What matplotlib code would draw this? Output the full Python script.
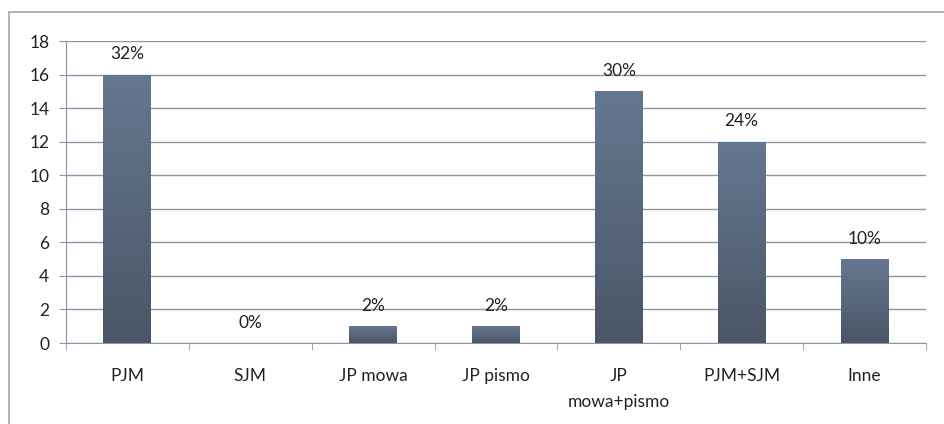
import numpy as np
import matplotlib.pyplot as plt
import matplotlib.patches as patches
from matplotlib.colors import LinearSegmentedColormap

# Categories and counts:
categories = ['PJM', 'SJM', 'JP mowa', 'JP pismo', 'JP\nmowa+pismo', 'PJM+SJM', 'Inne']
counts = [16, 0, 1, 1, 15, 12, 5]
percent_labels = ['32%', '0%', '2%', '2%', '30%', '24%', '10%']
y_ticks = [0, 2, 4, 6, 8, 10, 12, 14, 16, 18]

plt.rcParams['font.family'] = ['Lato', 'DejaVu Sans']

fig = plt.figure(figsize=(9.44, 4.24), dpi=100)
ax = fig.add_axes([66 / 944, 81 / 424, 860 / 944, 302 / 424])

# Outer chart border (only left and top edges are visible in the reference):
fig.patches.append(patches.Rectangle((9 / 944, -0.1), 1.2, (412 / 424) + 0.1,
                                     transform=fig.transFigure, fill=False,
                                     edgecolor='#a6a6a6', linewidth=1.2))

x = np.arange(len(categories))
bar_width = 0.39
bars = ax.bar(x, counts, width=bar_width, color='none', edgecolor='none', zorder=3)

# Vertical gradient on every bar (lighter top, darker bottom):
grad = np.linspace(0, 1, 256).reshape(-1, 1)
cmap = LinearSegmentedColormap.from_list('bar', ['#4b5666', '#647790'])
for b in bars:
    h = b.get_height()
    if h <= 0:
        continue
    x0 = b.get_x()
    im = ax.imshow(grad, cmap=cmap, origin='lower', aspect='auto',
                   extent=[x0, x0 + b.get_width(), 0, h], zorder=3)
    im.set_clip_path(b)

for xi, c, lab in zip(x, counts, percent_labels):
    ax.annotate(lab, (xi, c), xytext=(0, 9), textcoords='offset points',
                ha='center', va='bottom', fontsize=12.5, color='#222222')

ax.set_xlim(-0.5, len(categories) - 0.5)
ax.set_ylim(0, 18)
ax.set_yticks(y_ticks)
ax.set_xticks(x)
ax.set_xticklabels(categories, fontsize=12.5, color='#222222', linespacing=1.75)
ax.set_xticks(np.arange(len(categories) + 1) - 0.5, minor=True)
ax.tick_params(axis='x', which='major', length=0, pad=18)
ax.tick_params(axis='x', which='minor', length=5, color='#8f94a8')
ax.tick_params(axis='y', length=5, color='#8f94a8', labelsize=12.5, labelcolor='#222222', pad=7)

ax.grid(axis='y', color='#8f94a8', linewidth=1)
ax.set_axisbelow(True)
for s in ['top', 'right']:
    ax.spines[s].set_visible(False)
ax.spines['left'].set_color('#8f94a8')
ax.spines['bottom'].set_color('#8f94a8')

fig.savefig('out.png', dpi=100)
